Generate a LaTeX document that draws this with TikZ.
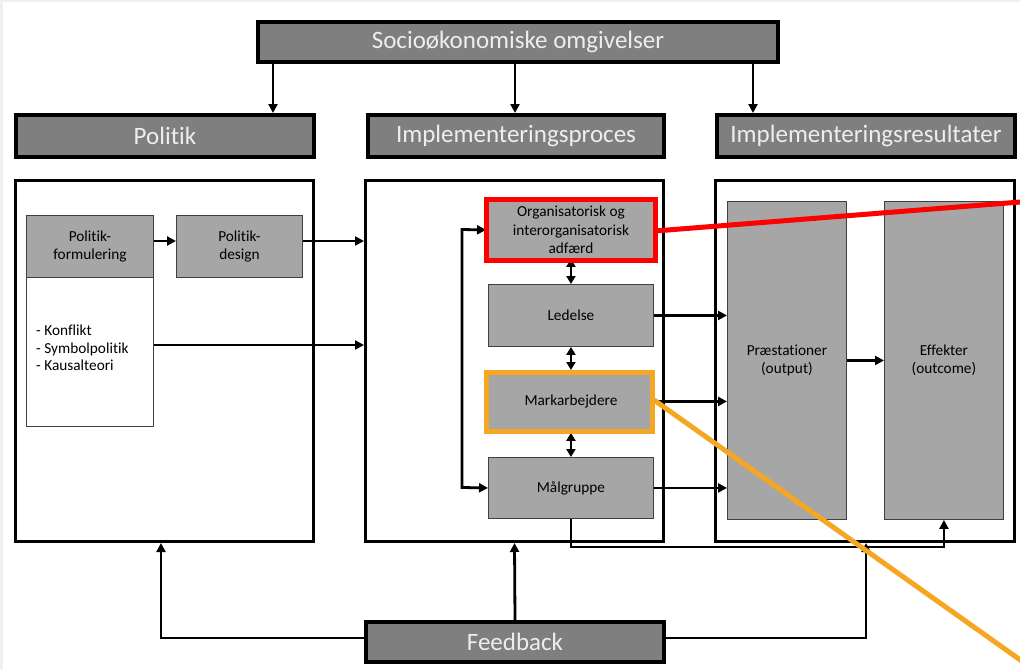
\documentclass[tikz,border=0pt]{standalone}
\usepackage{fontspec}
\setmainfont{Carlito}[Ligatures=NoCommon]
\usetikzlibrary{arrows.meta,calc}
\definecolor{hdr}{RGB}{127,127,127}
\definecolor{inner}{RGB}{166,166,166}
\definecolor{hdrtext}{RGB}{238,238,238}
\definecolor{orng}{RGB}{245,166,35}
\definecolor{edgegray}{RGB}{240,240,240}
\begin{document}
\begin{tikzpicture}[x=1pt,y=-1pt,
  hdrbox/.style={draw=black, line width=4pt, fill=hdr, text=hdrtext,
    font=\fontsize{25}{28}\selectfont, inner sep=0pt, anchor=north west},
  bigbox/.style={draw=black, line width=3pt, fill=white, inner sep=0pt, anchor=north west},
  inbox/.style={draw=black!75, line width=0.9pt, fill=inner, inner sep=0pt,
    anchor=north west, align=center, font=\fontsize{15.3}{18.5}\selectfont},
  arr/.style={line width=2.8pt, -{Triangle[length=9pt,width=9pt]}},
  dblarr/.style={line width=2.8pt, {Triangle[length=8pt,width=9pt]}-{Triangle[length=8pt,width=9pt]}},
  hilite/.style={line width=5pt}
]
\useasboundingbox (0,0) rectangle (1020,670);
\fill[white] (0,0) rectangle (1020,670);
\fill[edgegray] (0,0) rectangle (3,670);
\fill[edgegray] (0,0) rectangle (1020,2);

% headers
\node[hdrbox, minimum width=520pt, minimum height=40pt] (socio) at (256,20) {Socioøkonomiske omgivelser};
\node[hdrbox, minimum width=298pt, minimum height=42pt] (hp) at (14,113) {Politik};
\node[hdrbox, minimum width=296pt, minimum height=42pt] (hi) at (366,113) {Implementeringsproces};
\node[hdrbox, minimum width=298pt, minimum height=42pt] (hr) at (715,113) {Implementeringsresultater};
\node[hdrbox, minimum width=298pt, minimum height=40pt] (fb) at (364,620) {Feedback};

% big boxes
\node[bigbox, minimum width=298pt, minimum height=361pt] (bp) at (14,179) {};
\node[bigbox, minimum width=298pt, minimum height=361pt] (bi) at (364,179) {};
\node[bigbox, minimum width=299pt, minimum height=361pt] (br) at (714,179) {};

% politik inner
\node[inbox, minimum width=127pt, minimum height=62pt] (pf) at (26,215) {Politik-\\formulering};
\node[inbox, fill=white, minimum width=127pt, minimum height=149pt] (pfl) at (26,277) {};
\node[anchor=west, align=left, inner sep=0pt, font=\fontsize{15.3}{17.5}\selectfont] (pft) at (36,348) {- Konflikt\\- Symbolpolitik\\- Kausalteori};
\node[inbox, minimum width=126pt, minimum height=62pt] (pd) at (176,215) {Politik-\\design};

% implementering inner
\node[inbox, minimum width=165pt, minimum height=57pt] (org) at (488,201) {Organisatorisk og\\interorganisatorisk\\adfærd};
\node[inbox, minimum width=165pt, minimum height=62pt] (led) at (488,284) {Ledelse};
\node[inbox, minimum width=165pt, minimum height=62pt] (mark) at (488,370) {Markarbejdere};
\node[inbox, minimum width=165pt, minimum height=61pt] (mal) at (488,457) {Målgruppe};

% results inner
\node[inbox, minimum width=119pt, minimum height=318pt] (pr) at (727,201) {Præstationer\\(output)};
\node[inbox, minimum width=119pt, minimum height=318pt] (ef) at (884,201) {Effekter\\(outcome)};

% socio arrows
\draw[arr] (socio.south -| 273,0) -- (hp.north -| 273,0);
\draw[arr] (socio.south -| 515,0) -- (hi.north -| 515,0);
\draw[arr] (socio.south -| 753,0) -- (hr.north -| 753,0);

% politik arrows
\draw[arr] (pf.east |- 0,241) -- (pd.west |- 0,241);
\draw[arr] (pd.east |- 0,241) -- (bi.west |- 0,241);
\draw[arr] (pfl.east |- 0,345) -- (bi.west |- 0,345);

% implementering arrows
\draw[dblarr] (org.south) -- (led.north);
\draw[dblarr] (led.south) -- (mark.north);
\draw[dblarr] (mark.south) -- (mal.north);
\draw[line width=2.8pt, {Triangle[length=9pt,width=9pt]}-{Triangle[length=9pt,width=9pt]}]
  ($(org.west)+(-2,0)$) -- (462,229.5) -- (462,487.5) -- (mal.west);
\draw[arr] (led.east) -- (led.east -| pr.west);
\draw[arr] (mark.east) -- (mark.east -| pr.west);
\draw[arr] (mal.east) -- (mal.east -| pr.west);
\draw[arr] (pr.east) -- (ef.west);
\draw[arr] (mal.south) -- (mal.south |- 0,547) -- (ef.south |- 0,547) -- (ef.south);

% feedback
\draw[arr] (fb.west |- 0,638) -| (bp.south -| 161,0);
\draw[arr] (fb.north) -- (bi.south);
\draw[arr] (fb.east |- 0,638) -| (br.south -| 866,0);

% highlights
\draw[red, hilite] (486,199) rectangle (655,260);
\draw[orng, hilite] (486,372) rectangle (652,431);
\coordinate (redend) at (1024,201.7);
\coordinate (orngend) at (1026,664);
\draw[red, hilite] (655,231) -- (redend);
\draw[orng, hilite] (654,400) -- (orngend);
\end{tikzpicture}
\end{document}
